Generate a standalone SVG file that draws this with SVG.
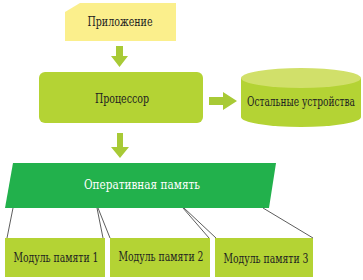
<svg xmlns="http://www.w3.org/2000/svg" width="363" height="280" viewBox="0 0 363 280">
<defs>
<style>
.t{font-family:"DejaVu Serif Condensed","Liberation Serif",serif;font-size:12px;fill:#222;text-anchor:middle}
.w{fill:#fff}
.arrow{fill:#a8ca36}
.mod{fill:#b4d334}
.ln{stroke:#333;stroke-width:0.8;fill:none}
</style>
</defs>
<rect width="363" height="280" fill="#fff"/>
<g id="app">
<polygon points="65,12 80,3 176,3 176,41 65,41" fill="#fbef8c"/>
<text class="t" x="120" y="26" textLength="65" lengthAdjust="spacingAndGlyphs">Приложение</text>
</g>
<g id="cpu">
<rect x="39" y="72" width="164" height="51" rx="6" fill="#b4d334"/>
<text class="t" x="122" y="103" textLength="54" lengthAdjust="spacingAndGlyphs">Процессор</text>
</g>
<g id="devices">
<path d="M241,78 L241,117 A60,10 0 0 0 361,117 L361,78 Z" fill="#b4d334"/>
<ellipse cx="301" cy="78" rx="60" ry="10" fill="#d1e06a"/>
<text class="t" x="301" y="106" font-size="11.5" textLength="108" lengthAdjust="spacingAndGlyphs">Остальные устройства</text>
</g>
<g id="ram">
<polygon points="13,163 276,163 269,208 5,208" fill="#22b14c"/>
<text class="t w" x="142" y="189" textLength="116" lengthAdjust="spacingAndGlyphs">Оперативная память</text>
</g>
<g id="mod1">
<rect class="mod" x="5" y="238" width="100" height="39"/>
<text class="t" x="56" y="262" textLength="85" lengthAdjust="spacingAndGlyphs">Модуль памяти 1</text>
</g>
<g id="mod2">
<rect class="mod" x="110" y="238" width="100" height="39"/>
<text class="t" x="161" y="261" textLength="85" lengthAdjust="spacingAndGlyphs">Модуль памяти 2</text>
</g>
<g id="mod3">
<rect class="mod" x="215" y="238" width="98" height="39"/>
<text class="t" x="266" y="263" textLength="85" lengthAdjust="spacingAndGlyphs">Модуль памяти 3</text>
</g>
<g id="connectors">
<polygon class="arrow" points="116,46 123,46 123,56 128,56 119.5,67 111,56 116,56"/>
<polygon class="arrow" points="117,133 123,133 123,147 129,147 120,158 111,147 117,147"/>
<polygon class="arrow" points="209,97 223,97 223,92 237,101 223,110 223,105 209,105"/>
<line class="ln" x1="13" y1="208" x2="7" y2="238"/>
<line class="ln" x1="97" y1="208" x2="103" y2="238"/>
<line class="ln" x1="98" y1="208" x2="110" y2="238"/>
<line class="ln" x1="183" y1="208" x2="209" y2="238"/>
<line class="ln" x1="184" y1="208" x2="216" y2="238"/>
<line class="ln" x1="263" y1="208" x2="313" y2="238"/>
</g>
</svg>
